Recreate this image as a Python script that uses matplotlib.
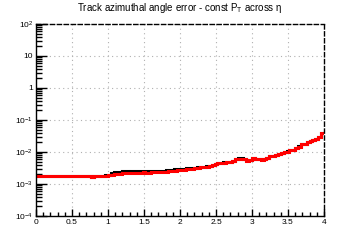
import matplotlib
matplotlib.use("Agg")
import matplotlib.pyplot as plt
import numpy as np
from matplotlib.ticker import FixedLocator, FixedFormatter, LogLocator, NullFormatter, MultipleLocator

plt.rcParams['font.family'] = ['Liberation Sans', 'DejaVu Sans']
plt.rcParams['mathtext.fontset'] = 'custom'
plt.rcParams['mathtext.rm'] = 'Liberation Sans'
plt.rcParams['mathtext.it'] = 'Liberation Sans'

# bin edges in eta: 100 bins from 0 to 4
eta_lo = 0.0
eta_hi = 4.0
n_bins = 100

# red histogram (values x 1e-3)
err_red = [1.74, 1.76, 1.73, 1.75, 1.77, 1.74, 1.72, 1.75, 1.76, 1.74,
           1.73, 1.76, 1.75, 1.72, 1.74, 1.77, 1.75, 1.73, 1.74, 1.71,
           1.75, 1.76, 1.78, 1.80, 1.84, 1.90, 1.97, 2.02, 2.08, 2.12,
           2.18, 2.22, 2.20, 2.25, 2.28, 2.23, 2.26, 2.30, 2.24, 2.27,
           2.32, 2.29, 2.35, 2.38, 2.40, 2.45, 2.52, 2.55, 2.62, 2.66,
           2.72, 2.80, 2.86, 2.95, 3.05, 3.12, 3.20, 3.28, 3.35, 3.50,
           3.70, 3.90, 4.10, 4.40, 4.55, 4.50, 4.70, 4.75, 5.20, 6.10,
           6.25, 6.20, 6.15, 5.40, 5.60, 6.60, 6.10, 5.90, 5.80, 5.95,
           6.40, 7.40, 7.70, 8.20, 8.80, 9.00, 9.80, 10.3, 11.2, 11.6,
           13.3, 14.8, 17.4, 18.0, 20.5, 22.0, 23.7, 25.5, 28.5, 40.0]

# black histogram (values x 1e-3)
err_black = [1.74, 1.76, 1.73, 1.75, 1.77, 1.74, 1.72, 1.75, 1.76, 1.74,
             1.73, 1.76, 1.75, 1.72, 1.74, 1.77, 1.75, 1.73, 1.74, 1.71,
             1.75, 1.76, 1.78, 1.82, 1.86, 1.95, 2.20, 2.42, 2.45, 2.44,
             2.46, 2.48, 2.45, 2.50, 2.52, 2.47, 2.50, 2.54, 2.49, 2.52,
             2.56, 2.53, 2.58, 2.62, 2.64, 2.68, 2.75, 2.80, 2.86, 2.90,
             2.96, 3.02, 3.06, 3.10, 3.20, 3.22, 3.30, 3.34, 3.40, 3.56,
             3.72, 3.92, 4.15, 4.55, 4.60, 4.70, 4.75, 4.80, 5.25, 6.20,
             6.30, 6.30, 6.20, 5.45, 5.70, 6.70, 6.15, 5.95, 5.85, 6.00,
             6.45, 7.45, 7.75, 8.25, 8.85, 9.05, 9.85, 10.4, 11.3, 11.7,
             13.4, 14.9, 17.5, 18.1, 20.6, 22.1, 23.8, 25.6, 28.6, 40.2]

x_ticks = [0, 0.5, 1, 1.5, 2, 2.5, 3, 3.5, 4]
x_labels = ['0', '0.5', '1', '1.5', '2', '2.5', '3', '3.5', '4']
y_ticks = [1e-4, 1e-3, 1e-2, 1e-1, 1, 10, 100]
y_labels = [r'$10^{-4}$', r'$10^{-3}$', r'$10^{-2}$', r'$10^{-1}$', '1', '10', r'$10^{2}$']

edges = np.linspace(eta_lo, eta_hi, n_bins + 1)

fig = plt.figure(figsize=(3.6, 2.4), dpi=100)
ax = fig.add_axes([0.1, 0.1, 0.8, 0.8])

ax.stairs(np.array(err_black) * 1e-3, edges, color='black', linewidth=2.2, baseline=None)
ax.stairs(np.array(err_red) * 1e-3, edges, color='red', linewidth=2.2, baseline=None)

ax.set_yscale('log')
ax.set_xlim(eta_lo, eta_hi)
ax.set_ylim(1e-4, 1e2)

ax.xaxis.set_major_locator(FixedLocator(x_ticks))
ax.xaxis.set_major_formatter(FixedFormatter(x_labels))
ax.xaxis.set_minor_locator(MultipleLocator(0.1))
ax.yaxis.set_major_locator(FixedLocator(y_ticks))
ax.yaxis.set_major_formatter(FixedFormatter(y_labels))
ax.yaxis.set_minor_locator(LogLocator(base=10, subs=np.arange(2, 10), numticks=20))
ax.yaxis.set_minor_formatter(NullFormatter())

ax.tick_params(axis='both', which='major', direction='in', labelsize=6, pad=2, width=1)
ax.tick_params(axis='y', which='major', length=8)
ax.tick_params(axis='y', which='minor', direction='in', length=4, width=1)
ax.tick_params(axis='x', which='major', length=5)
ax.tick_params(axis='x', which='minor', direction='in', length=3, width=1)

ax.grid(True, which='major', color='#b0b0b0', linestyle=(0, (1, 3)), linewidth=0.8)
ax.set_axisbelow(True)

for side in ['left', 'bottom']:
    ax.spines[side].set_linewidth(1)
for side in ['top', 'right']:
    ax.spines[side].set_linestyle((0, (3, 2)))
    ax.spines[side].set_linewidth(1)

fig.text(0.5, 0.965, r'Track azimuthal angle error - const P$_{\mathrm{T}}$ across η',
         ha='center', va='center', fontsize=7)

fig.savefig('out.png', dpi=100)
